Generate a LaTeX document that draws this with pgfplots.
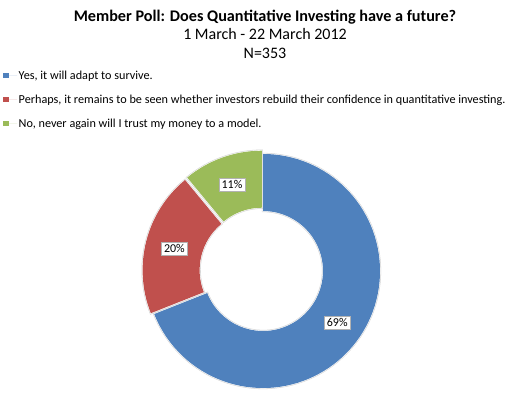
\documentclass[border=0pt]{standalone}
\usepackage{fontspec}
\setmainfont{Carlito}
\usepackage{pgfplots}
\pgfplotsset{compat=1.18}
\usepackage{pgfplotstable}
\definecolor{cblue}{HTML}{4F81BD}
\definecolor{cred}{HTML}{C0504D}
\definecolor{cgreen}{HTML}{9BBB59}

\pgfplotstableread{
label value
Yes 69
Perhaps 20
No 11
}\polldata

\newcommand{\sector}[5]{%
  \path[fill=#1, draw=gray!35, line width=2.2pt] (#2:#4) arc[start angle=#2, end angle=#3, radius=#4] -- (#3:#5) arc[start angle=#3, end angle=#2, radius=#5] -- cycle;
  \path[draw=white, line width=1.1pt] (#2:#4) arc[start angle=#2, end angle=#3, radius=#4] -- (#3:#5) arc[start angle=#3, end angle=#2, radius=#5] -- cycle;
  \path[fill=#1] (#2:#4) arc[start angle=#2, end angle=#3, radius=#4] -- (#3:#5) arc[start angle=#3, end angle=#2, radius=#5] -- cycle;
}

\begin{document}
\begin{tikzpicture}
\pgfplotstablegetelem{0}{value}\of\polldata \let\va\pgfplotsretval
\pgfplotstablegetelem{1}{value}\of\polldata \let\vb\pgfplotsretval
\pgfplotstablegetelem{2}{value}\of\polldata \let\vc\pgfplotsretval
\pgfmathsetmacro{\aA}{90}
\pgfmathsetmacro{\aB}{90-3.6*\va}
\pgfmathsetmacro{\aC}{\aB-3.6*\vb}
\pgfmathsetmacro{\aD}{\aC-3.6*\vc}
\pgfmathsetmacro{\mA}{(\aA+\aB)/2}
\pgfmathsetmacro{\mB}{(\aB+\aC)/2}
\pgfmathsetmacro{\mC}{(\aC+\aD)/2}
\begin{axis}[x=1pt, y=1pt, xmin=0, xmax=528, ymin=0, ymax=416,
  anchor=origin, at={(0,0)}, hide axis, clip=false,
  legend style={at={(axis cs:3,347)}, anchor=north west, draw=none, fill=none,
    font=\fontsize{12.2}{14}\selectfont, row sep=11pt, inner sep=0pt,
    nodes={inner sep=1.5pt}},
  legend cell align=left,
  legend image code/.code={\fill[#1] (0pt,-2.8pt) rectangle (5.6pt,2.8pt); \path (0pt,0pt) -- (14pt,0pt);},
]
\addlegendimage{fill=cblue, draw=none}
\addlegendentry{Yes, it will adapt to survive.}
\addlegendimage{fill=cred, draw=none}
\addlegendentry{Perhaps, it remains to be seen whether investors rebuild their confidence in quantitative investing.}
\addlegendimage{fill=cgreen, draw=none}
\addlegendentry{No, never again will I trust my money to a model.}

\begin{scope}[shift={(axis cs:263,145)}]
  \sector{cblue}{\aA}{\aB}{117pt}{60pt}
  \begin{scope}[shift={(\mB:3.5pt)}]
    \sector{cred}{\aB}{\aC}{117pt}{60pt}
    \node[fill=white, draw=gray!60, inner sep=2.4pt, font=\fontsize{12}{14}\selectfont] at (\mB:88pt) {\vb\%};
  \end{scope}
  \begin{scope}[shift={(\mC:3.5pt)}]
    \sector{cgreen}{\aC}{\aD}{117pt}{60pt}
    \node[fill=white, draw=gray!60, inner sep=2.4pt, font=\fontsize{12}{14}\selectfont] at (\mC:88pt) {\vc\%};
  \end{scope}
  \node[fill=white, draw=gray!60, inner sep=2.4pt, font=\fontsize{12}{14}\selectfont] at ([shift={(1.5pt,-2pt)}]\mA:88pt) {\va\%};
\end{scope}

\node[font=\bfseries\fontsize{16.2}{18}\selectfont] at (axis cs:265,398.5) {Member Poll: Does Quantitative Investing have a future?};
\node[font=\fontsize{16}{18}\selectfont] at (axis cs:265,381.5) {1 March - 22 March 2012};
\node[font=\fontsize{16}{18}\selectfont] at (axis cs:265,363) {N=353};
\end{axis}
\pgfresetboundingbox
\path[use as bounding box] (0,0) rectangle (528pt,416pt);
\end{tikzpicture}
\end{document}
